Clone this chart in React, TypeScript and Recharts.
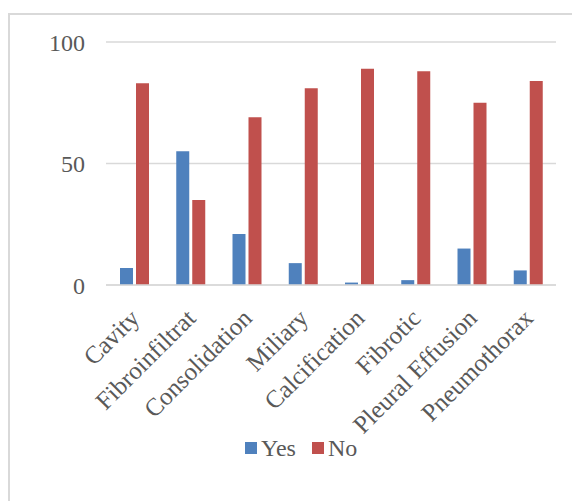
import React from 'react';
import { BarChart, Bar, XAxis, YAxis, CartesianGrid, Legend } from 'recharts';

const categories = [
  'Cavity',
  'Fibroinfiltrat',
  'Consolidation',
  'Miliary',
  'Calcification',
  'Fibrotic',
  'Pleural Effusion',
  'Pneumothorax',
];
const yesValues = [7, 55, 21, 9, 1, 2, 15, 6];
const noValues = [83, 35, 69, 81, 89, 88, 75, 84];
const seriesNames = ['Yes', 'No'];
const yTicks = [0, 50, 100];

const data = categories.map((name, i) => ({ name, Yes: yesValues[i], No: noValues[i] }));

const FONT = '"Liberation Serif", "DejaVu Serif", serif';
const TEXT = '#595959';
const GRID = '#D9D9D9';

const AngledTick = (props: any) => {
  const { x, y, payload } = props;
  return (
    <g transform={`translate(${x - 6},${y + 12})`}>
      <text
        x={0}
        y={0}
        dy={18}
        textAnchor="end"
        transform="rotate(-45)"
        fill={TEXT}
        fontSize={25}
        fontFamily={FONT}
      >
        {payload.value}
      </text>
    </g>
  );
};

const LegendContent = (props: any) => {
  const items = [...(props.payload || [])].sort(
    (a: any, b: any) => seriesNames.indexOf(a.value) - seriesNames.indexOf(b.value)
  );
  return (
    <div style={{ display: 'flex', alignItems: 'center', fontFamily: FONT, fontSize: 24, color: TEXT, lineHeight: '26px' }}>
      {items.map((entry: any) => (
        <span key={entry.value} style={{ display: 'flex', alignItems: 'center', marginRight: 16 }}>
          <span style={{ display: 'inline-block', width: 12, height: 12, background: entry.color, marginRight: 4 }} />
          {entry.value}
        </span>
      ))}
    </div>
  );
};

export default function App() {
  return (
    <div
      style={{
        marginTop: 5,
        width: 600,
        height: 520,
        border: `2px solid ${GRID}`,
        background: '#fff',
        position: 'relative',
      }}
    >
      <BarChart
        width={570}
        height={480}
        data={data}
        margin={{ top: 27, right: 24, left: 0, bottom: 0 }}
        barSize={13}
        barGap={3}
      >
        <CartesianGrid vertical={false} stroke={GRID} strokeWidth={1.5} />
        <XAxis
          dataKey="name"
          interval={0}
          height={210}
          axisLine={{ stroke: GRID, strokeWidth: 1.5 }}
          tickLine={false}
          tickSize={0}
          tickMargin={10}
          tick={<AngledTick />}
        />
        <YAxis
          width={96}
          domain={[0, 100]}
          ticks={yTicks}
          axisLine={false}
          tickLine={false}
          tickSize={0}
          tickMargin={21}
          tick={{ fill: TEXT, fontSize: 24, fontFamily: FONT }}
        />
        <Legend
          layout="horizontal"
          verticalAlign="middle"
          align="center"
          content={<LegendContent />}
          wrapperStyle={{ top: 420, left: 235, width: 'auto' }}
        />
        {seriesNames.map((s, i) => (
          <Bar key={s} dataKey={s} fill={i === 0 ? '#4F81BD' : '#C0504D'} isAnimationActive={false} />
        ))}
      </BarChart>
    </div>
  );
}
